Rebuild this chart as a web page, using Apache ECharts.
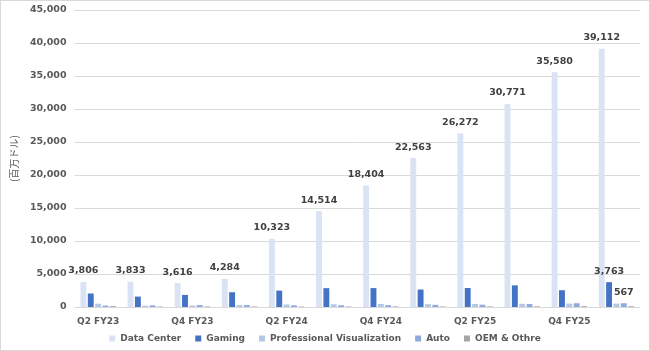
<!DOCTYPE html>
<html>
<head>
<meta charset="utf-8">
<script src="https://cdn.jsdelivr.net/npm/echarts@6/dist/echarts.min.js"></script>
<style>
html, body { margin: 0; padding: 0; background: #fff; }
#main { width: 648px; height: 349px; border: 1px solid #d9d9d9; }
</style>
</head>
<body>
<div id="main"></div>
<script>
var quarters = ['Q2 FY23', 'Q3 FY23', 'Q4 FY23', 'Q1 FY24', 'Q2 FY24', 'Q3 FY24',
  'Q4 FY24', 'Q1 FY25', 'Q2 FY25', 'Q3 FY25', 'Q4 FY25', 'Q1 FY26']
var dataCenter = [3806, 3833, 3616, 4284, 10323, 14514, 18404, 22563, 26272, 30771, 35580, 39112]
var gaming = [2042, 1574, 1831, 2240, 2486, 2856, 2865, 2647, 2880, 3279, 2544, 3763]
var proVis = [496, 200, 226, 295, 379, 416, 463, 427, 454, 486, 511, 509]
var auto = [220, 251, 294, 296, 253, 261, 281, 329, 346, 449, 570, 567]
var oem = [140, 73, 84, 77, 66, 73, 90, 78, 88, 97, 126, 111]

var myChart = echarts.init(document.getElementById('main'))

var font = 'Verdana, "DejaVu Sans", sans-serif'
var fmt = function (p) { return p.value.toLocaleString('en-US') }
var lastOnly = function (p) { return p.dataIndex === quarters.length - 1 ? fmt(p) : '' }

function bar(name, data, color, label) {
  return {
    name: name,
    type: 'bar',
    data: data,
    barGap: '25%',
    barCategoryGap: '25%',
    itemStyle: { color: color },
    label: label ? {
      show: true,
      position: 'top',
      distance: 6,
      formatter: label,
      color: '#404040',
      fontFamily: font,
      fontSize: 9.5,
      fontWeight: 'bold'
    } : { show: false }
  }
}

var option = {
  animation: false,
  grid: { left: 69, right: 9, top: 9, bottom: 43 },
  legend: {
    bottom: 2,
    itemWidth: 6,
    itemHeight: 6,
    itemGap: 14,
    icon: 'rect',
    textStyle: { color: '#595959', fontFamily: font, fontSize: 9, fontWeight: 'bold' }
  },
  xAxis: {
    type: 'category',
    data: quarters,
    axisTick: { show: false },
    axisLine: { lineStyle: { color: '#d9d9d9' } },
    axisLabel: { interval: 1, color: '#595959', fontFamily: font, fontSize: 9, fontWeight: 'bold', margin: 10 }
  },
  yAxis: {
    type: 'value',
    min: 0,
    max: 45000,
    interval: 5000,
    name: '(百万ドル)',
    nameLocation: 'middle',
    nameGap: 52,
    nameTextStyle: { color: '#595959', fontSize: 10, fontFamily: '"Noto Sans CJK JP", sans-serif' },
    splitLine: { lineStyle: { color: '#d9d9d9' } },
    axisLabel: {
      color: '#595959', fontFamily: font, fontSize: 9.5, fontWeight: 'bold', margin: 8,
      formatter: function (v) { return v.toLocaleString('en-US') }
    }
  },
  series: [
    bar('Data Center', dataCenter, '#dae3f3', fmt),
    bar('Gaming', gaming, '#4472c4', lastOnly),
    bar('Professional Visualization', proVis, '#b4c7e7', null),
    bar('Auto', auto, '#8faadc', lastOnly),
    bar('OEM & Othre', oem, '#a5a5a5', null)
  ]
}

myChart.setOption(option)
</script>
</body>
</html>
